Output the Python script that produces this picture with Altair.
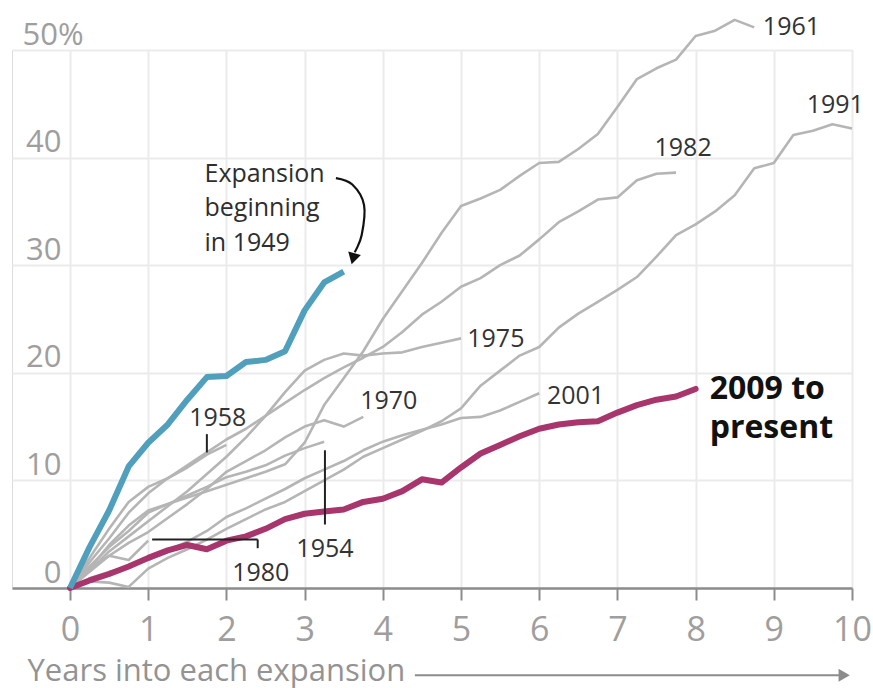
import altair as alt
import pandas as pd

# Cumulative growth (%) by quarter since the start of each expansion
STEP = 0.25
s1949 = [0, 3.8, 7.2, 11.3, 13.5, 15.2, 17.5, 19.6, 19.7, 21.0, 21.2, 22.0, 25.8, 28.4, 29.4]
s1954 = [0, 1.8, 4.0, 5.8, 7.2, 7.8, 8.6, 9.4, 10.3, 10.8, 11.4, 12.3, 13.0, 13.6]
s1958 = [0, 2.8, 5.5, 8.0, 9.4, 10.2, 11.2, 12.4, 13.3]
s1961 = [0, 2.0, 3.8, 5.3, 7.0, 7.8, 8.4, 9.0, 9.6, 10.2, 10.8, 11.5, 13.5, 17.0, 19.5,
         22.0, 25.0, 27.6, 30.2, 33.0, 35.5, 36.2, 37.0, 38.3, 39.5, 39.6, 40.8, 42.2,
         44.7, 47.3, 48.3, 49.1, 51.3, 51.8, 52.8, 52.1]
s1970 = [0, 1.5, 3.0, 4.2, 5.2, 6.5, 7.8, 9.2, 10.8, 11.8, 12.8, 14.0, 15.0, 15.6, 15.0, 15.9]
s1975 = [0, 1.6, 3.4, 4.8, 6.2, 7.6, 9.0, 10.6, 12.2, 14.0, 16.0, 18.2, 20.2, 21.2, 21.8,
         21.6, 21.8, 21.9, 22.4, 22.8, 23.2]
s1980 = [0, 1.8, 3.0, 2.6, 4.4]
s1982 = [0, 2.4, 4.6, 7.0, 8.8, 10.2, 11.4, 12.6, 13.8, 14.8, 16.0, 17.2, 18.4, 19.5, 20.5,
         21.4, 22.4, 23.8, 25.4, 26.6, 28.0, 28.8, 30.0, 30.9, 32.4, 34.0, 35.0, 36.1, 36.3,
         37.9, 38.5, 38.6]
s1991 = [0, 0.6, 0.5, 0.1, 1.8, 2.8, 3.6, 4.5, 5.5, 6.4, 7.3, 8.0, 9.0, 10.0, 11.0, 12.2,
         13.0, 13.8, 14.6, 15.5, 16.7, 18.8, 20.2, 21.6, 22.4, 24.2, 25.5, 26.6, 27.7, 28.9,
         30.8, 32.8, 33.8, 35.0, 36.5, 39.0, 39.5, 42.1, 42.5, 43.1, 42.7]
s2001 = [0, 0.9, 1.5, 2.0, 2.6, 3.5, 4.3, 5.3, 6.6, 7.4, 8.3, 9.2, 10.2, 11.0, 11.8, 12.8,
         13.6, 14.2, 14.7, 15.2, 15.8, 15.9, 16.5, 17.3, 18.1]
s2009 = [0, 0.7, 1.3, 2.0, 2.8, 3.5, 4.0, 3.6, 4.4, 4.8, 5.5, 6.4, 6.9, 7.1, 7.3, 8.0, 8.3,
         9.0, 10.1, 9.8, 11.2, 12.5, 13.3, 14.1, 14.8, 15.2, 15.4, 15.5, 16.3, 17.0, 17.5,
         17.8, 18.5]

past_series = {"1954": s1954, "1958": s1958, "1961": s1961, "1970": s1970, "1975": s1975,
               "1980": s1980, "1982": s1982, "1991": s1991, "2001": s2001}

# Year labels for the past expansions: text, x, y, alignment
label_text = ["1961", "1991", "1982", "1975", "1970", "2001", "1958", "1954", "1980"]
label_x = [8.86, 9.42, 7.84, 5.08, 3.71, 6.10, 1.89, 3.26, 2.44]
label_y = [52.1, 44.9, 40.9, 23.1, 17.4, 17.8, 15.8, 3.6, 1.4]
label_align = ["left", "left", "center", "left", "left", "left", "center", "center", "center"]

# Leader lines tying labels to their series
leader_x = [1.75, 3.26, 1.05, 2.40]
leader_x2 = [1.75, 3.26, 2.40, 2.40]
leader_y = [14.3, 12.8, 4.5, 4.5]
leader_y2 = [12.6, 5.9, 4.5, 3.7]

# Curved pointer for the 1949 note
note_lines = ["Expansion", "beginning", "in 1949"]
pointer_x = [3.40, 3.61, 3.76, 3.73, 3.64]
pointer_y = [38.1, 37.5, 35.6, 32.8, 31.2]

X_MIN, X_MAX = -0.742, 10
Y_MIN, Y_MAX = 0, 50
FONT = "Open Sans"


def frame(name, values):
    return pd.DataFrame({"series": name,
                         "years": [i * STEP for i in range(len(values))],
                         "growth": values})


past = pd.concat([frame(k, v) for k, v in past_series.items()], ignore_index=True)
blue = frame("1949", s1949)
current = frame("2009", s2009)
label_df = pd.DataFrame({"t": label_text, "x": label_x, "y": label_y, "a": label_align})

xs = alt.Scale(domain=[X_MIN, X_MAX], nice=False, zero=False)
ys = alt.Scale(domain=[Y_MIN, Y_MAX], nice=False, zero=False)

x_axis = alt.Axis(
    values=list(range(0, 11)), format="d", grid=True, gridColor="#ebebeb", gridWidth=2,
    domain=True, domainColor="#8c8c8c", domainWidth=2.5,
    ticks=True, tickColor="#8c8c8c", tickWidth=2, tickSize=12,
    labelFont=FONT, labelFontSize=34, labelColor="#9e9e9e", labelPadding=13,
    labelOverlap=False, labelFlush=False, labelBound=False,
    title="Years into each expansion", titleFont=FONT, titleFontSize=31,
    titleFontWeight="normal", titleColor="#939393", titleAnchor="start",
    titleAlign="left", titleBaseline="alphabetic", titleX=15, titleY=92,
)
y_axis = alt.Axis(
    values=[0, 10, 20, 30, 40, 50], grid=True, gridColor="#ebebeb", gridWidth=2,
    domain=False, ticks=False, tickSize=0,
    labelExpr="datum.value == 50 ? '50%' : datum.label",
    labelAlign={"condition": {"test": "datum.value == 50", "value": "left"}, "value": "right"},
    labelPadding={"condition": {"test": "datum.value == 50", "value": -10}, "value": -49},
    labelBaseline="alphabetic", labelOffset=-6, labelOverlap=False,
    labelFont=FONT, labelFontSize=31, labelColor="#9e9e9e", title=None,
)

X = alt.X("years:Q", scale=xs, axis=x_axis)
Y = alt.Y("growth:Q", scale=ys, axis=y_axis)

gray_lines = alt.Chart(past).mark_line(
    color="#b5b5b5", strokeWidth=2.6, strokeJoin="round", clip=False
).encode(x=X, y=Y, detail="series:N")

line_2009 = alt.Chart(current).mark_line(
    color="#a8356c", strokeWidth=6, strokeJoin="round", strokeCap="round"
).encode(x="years:Q", y="growth:Q")

line_1949 = alt.Chart(blue).mark_line(
    color="#4f9fbd", strokeWidth=6, strokeJoin="round", strokeCap="butt"
).encode(x="years:Q", y="growth:Q")


def year_labels(align):
    return alt.Chart(label_df).transform_filter(
        alt.datum.a == align
    ).mark_text(
        font=FONT, fontSize=25, color="#333333", baseline="middle", align=align
    ).encode(x="x:Q", y="y:Q", text="t:N")


labels_left = year_labels("left")
labels_center = year_labels("center")

leaders = alt.Chart(pd.DataFrame({"x": leader_x, "x2": leader_x2,
                                  "y": leader_y, "y2": leader_y2})).mark_rule(
    color="#222222", strokeWidth=2
).encode(x="x:Q", x2="x2:Q", y="y:Q", y2="y2:Q")

present_label = alt.Chart(pd.DataFrame({"x": [8.18], "y": [18.5]})).mark_text(
    text=["2009 to", "present"], font=FONT, fontSize=32, fontWeight="bold",
    color="#111111", align="left", baseline="middle", lineHeight=39
).encode(x="x:Q", y="y:Q")

note = alt.Chart(pd.DataFrame({"x": [1.72], "y": [38.5]})).mark_text(
    text=note_lines, font=FONT, fontSize=25, color="#2e2e2e",
    align="left", baseline="middle", lineHeight=34.5
).encode(x="x:Q", y="y:Q")

pointer = alt.Chart(pd.DataFrame({"x": pointer_x, "y": pointer_y,
                                  "o": list(range(len(pointer_x)))})).mark_line(
    color="#111111", strokeWidth=2.2, interpolate="cardinal"
).encode(x="x:Q", y="y:Q", order="o:Q")

pointer_head = alt.Chart(pd.DataFrame({"x": [3.62], "y": [30.6]})).mark_point(
    shape="triangle-down", filled=True, color="#111111", size=170, opacity=1, angle=15
).encode(x="x:Q", y="y:Q")

# Arrow running along the x-axis title
axis_arrow = alt.Chart(pd.DataFrame({"x": [4.41], "x2": [9.85], "y": [-8.1]})).mark_rule(
    color="#8c8c8c", strokeWidth=2
).encode(x="x:Q", x2="x2:Q", y="y:Q")

axis_head = alt.Chart(pd.DataFrame({"x": [9.9], "y": [-8.1]})).mark_point(
    shape="triangle-right", filled=True, color="#8c8c8c", size=170, opacity=1
).encode(x="x:Q", y="y:Q")

chart = alt.layer(
    gray_lines, line_2009, line_1949, leaders, labels_left, labels_center, present_label,
    note, pointer, pointer_head, axis_arrow, axis_head
).properties(
    width=840, height=538,
    padding={"left": 12, "top": 50, "right": 21, "bottom": 100},
    autosize=alt.AutoSizeParams(type="none"),
).configure_view(stroke=None).configure(background="white")

chart.save("out.html", embed_options={"renderer": "svg", "actions": False})
